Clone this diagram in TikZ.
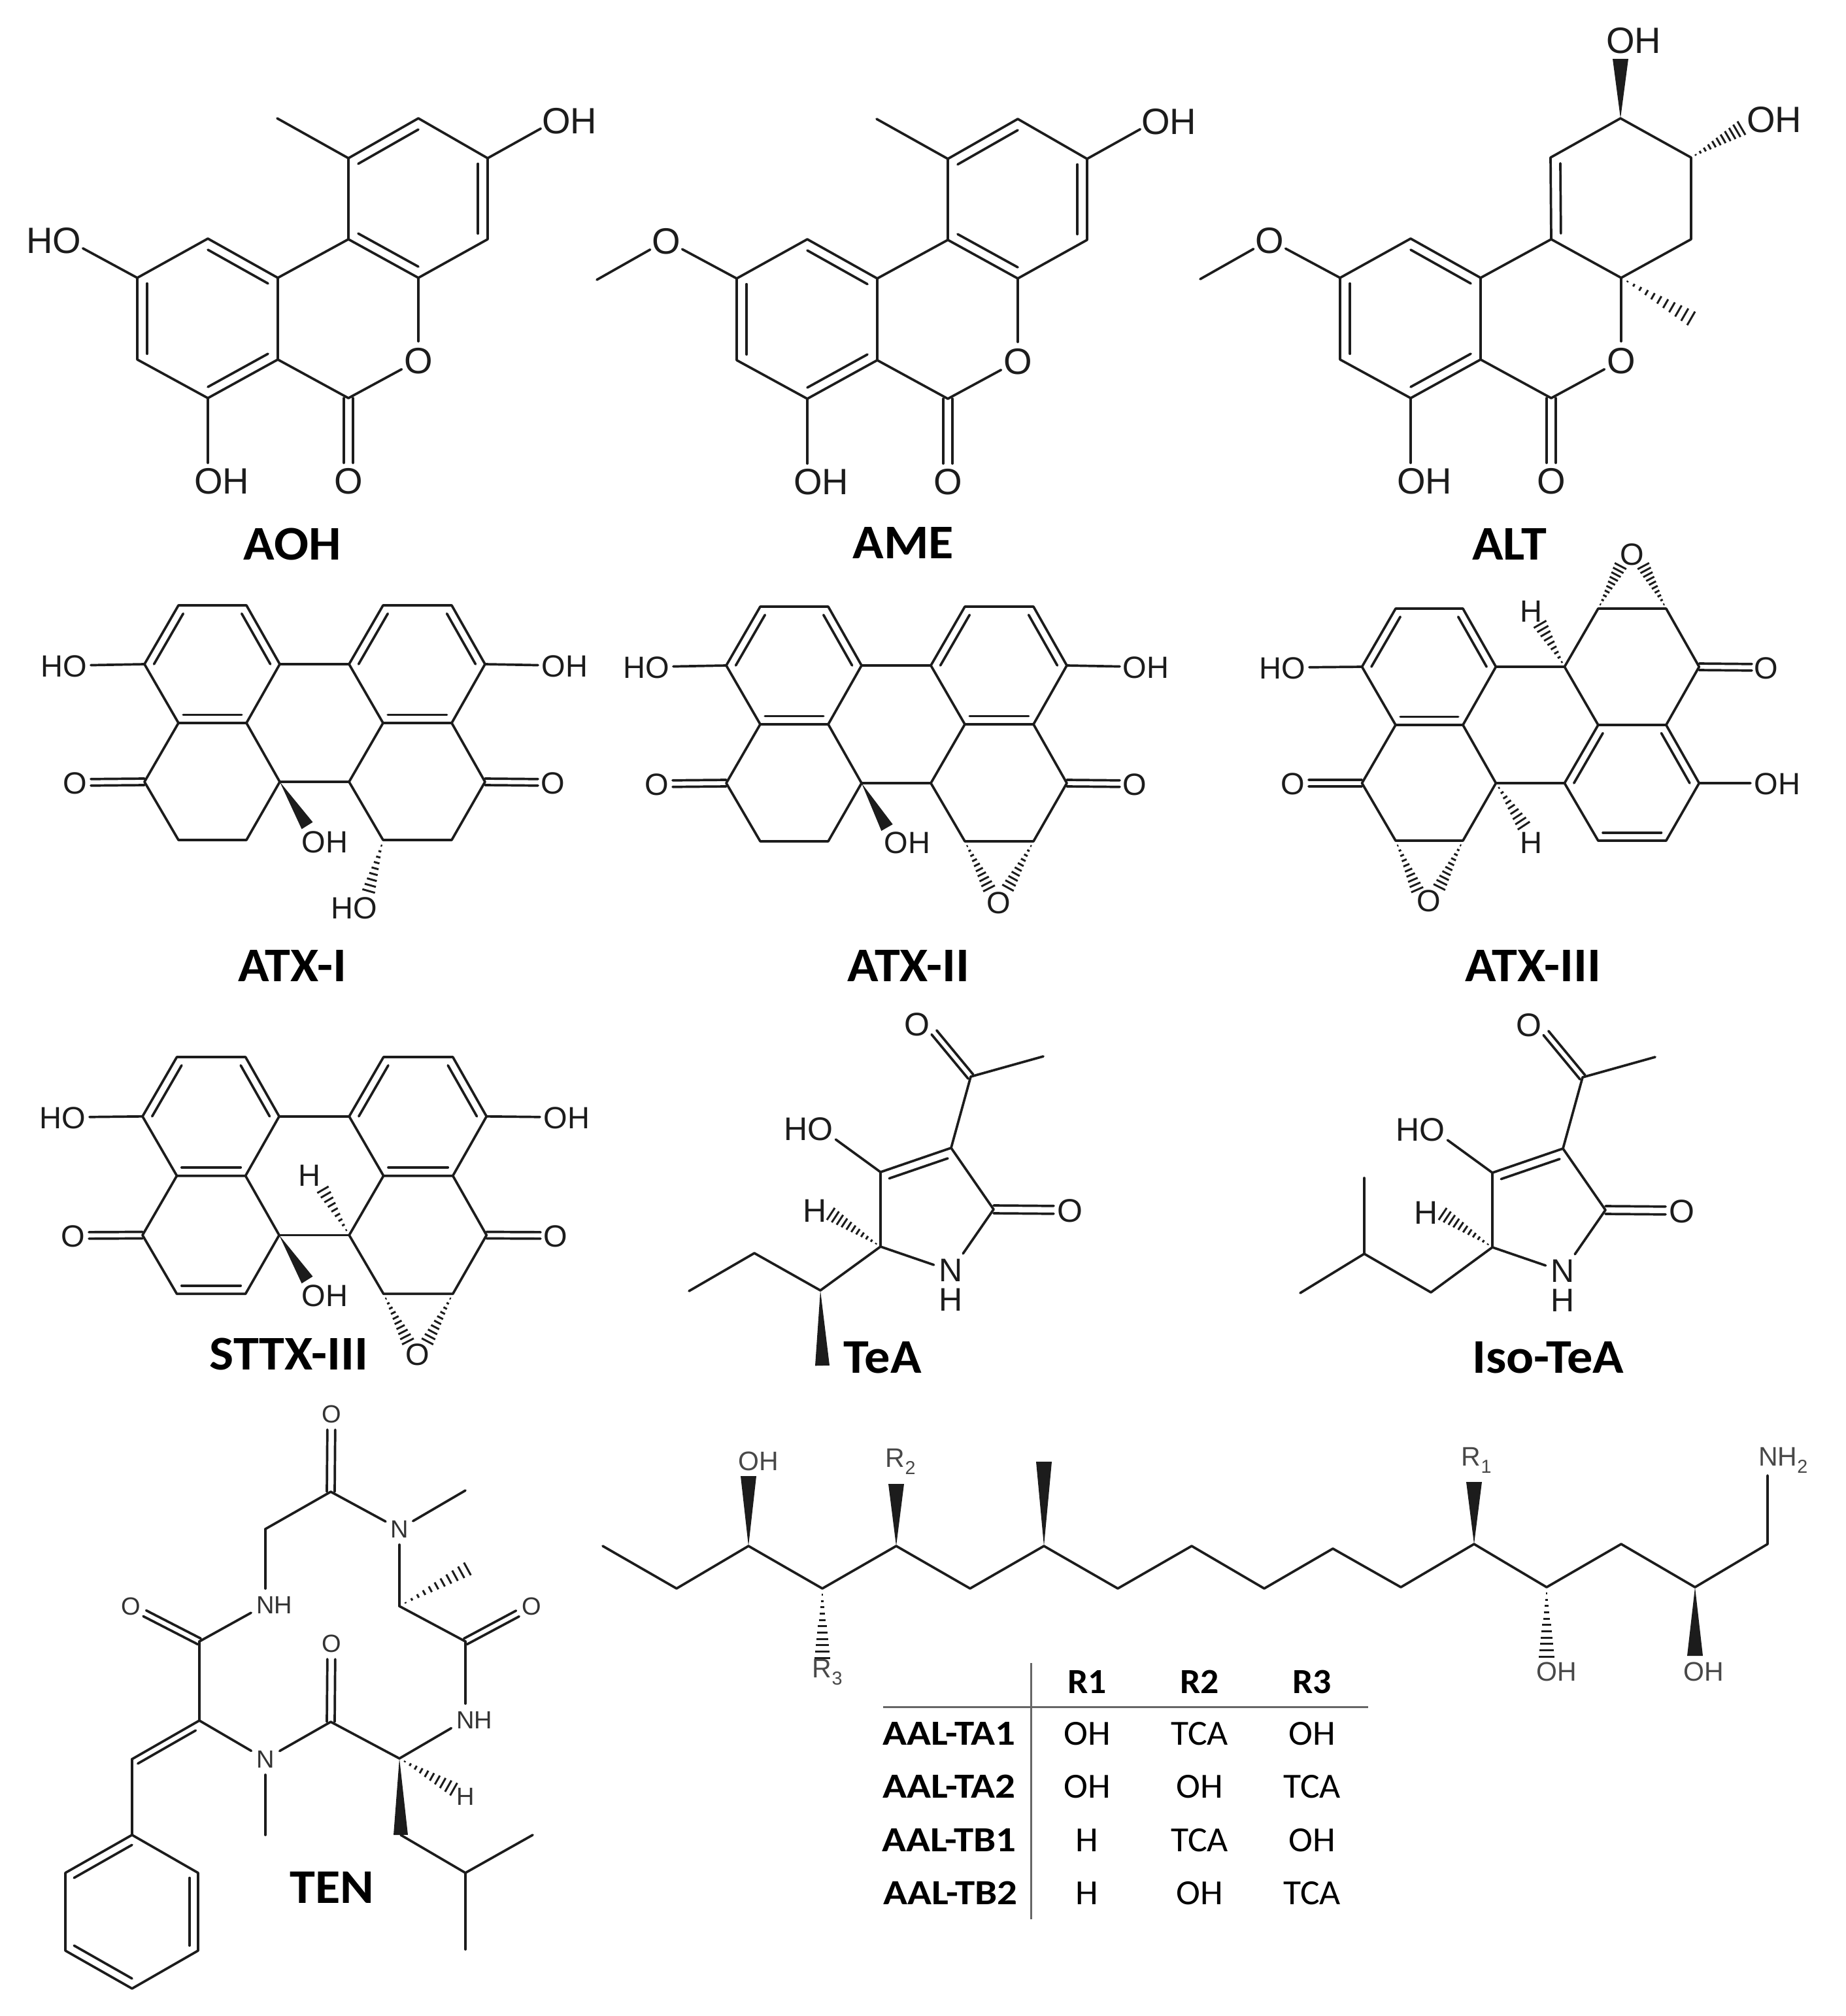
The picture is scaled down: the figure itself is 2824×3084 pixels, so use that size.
\documentclass[tikz,border=0pt]{standalone}
\usepackage{fontspec}
\setmainfont{Liberation Sans}
\newfontfamily\calib[FakeStretch=1.03]{Carlito}
\newfontfamily\calibT[FakeStretch=1.06]{Carlito}
\newfontfamily\calibR[FakeStretch=1.13]{Carlito}
\usetikzlibrary{calc}
\definecolor{inkc}{HTML}{1C1C1C}
\definecolor{inkt}{HTML}{333333}
\definecolor{inks}{HTML}{484848}
\tikzset{
  bond/.style={line width=3.7pt,line cap=round,line join=round,draw=inkc},
  hashl/.style={line width=3pt,draw=inkc},
  atomL/.style={font=\fontsize{56}{60}\selectfont,text=inkc,inner sep=0pt,text height=40pt,text depth=0pt},
  atomM/.style={font=\fontsize{47}{50}\selectfont,text=inkc,inner sep=0pt,text height=34pt,text depth=0pt},
  atomK/.style={font=\fontsize{50}{45}\selectfont,text=inkc,inner sep=0pt,text height=36pt,text depth=0pt},
  atomN/.style={font=\fontsize{50}{45}\selectfont,text=inkc,inner sep=0pt,align=center},
  atomT/.style={font=\fontsize{38}{40}\selectfont,text=inkt,inner sep=0pt,text height=27pt,text depth=0pt},
  atomS/.style={font=\fontsize{41}{44}\selectfont,text=inks,inner sep=0pt},
  title/.style={font=\calibT\bfseries\fontsize{74}{78}\selectfont,text=black,inner sep=0pt,text height=48pt,text depth=0pt},
  thead/.style={font=\calib\bfseries\fontsize{54}{58}\selectfont,text=black,inner sep=0pt,text height=35pt,text depth=0pt},
  trow/.style={font=\calibR\bfseries\fontsize{54}{58}\selectfont,text=black,inner sep=0pt,text height=35pt,text depth=0pt},
  tcell/.style={font=\calib\fontsize{54}{58}\selectfont,text=black,inner sep=0pt,text height=35pt,text depth=0pt},
  trule/.style={line width=3pt,draw=black!60},
}
% name of a plain bond, with its end held back from a label
\newcommand\bd[3][0pt]{\draw[bond,shorten >=#1] (#2) -- (#3);}
% inner line of a ring double bond
\newcommand\dl[4][.14]{\draw[bond] ($(#2)!#1!(#4)$) -- ($(#3)!#1!(#4)$);}
% symmetric double bond: [offset]{from}{to}{held back}
\newcommand\dco[4][5]{%
  \draw[bond,shorten >=#4] ($(#2)!#1pt!90:(#3)$) -- ($(#3)!#1pt!-90:(#2)$);
  \draw[bond,shorten >=#4] ($(#2)!#1pt!-90:(#3)$) -- ($(#3)!#1pt!90:(#2)$);}
\newcommand\wdg[3][10]{\fill[inkc] (#2) -- ($(#3)!#1pt!90:(#2)$) -- ($(#3)!#1pt!-90:(#2)$) -- cycle;}
\newcommand\hsh[4][9]{\foreach \hI in {1,...,#1}{%
  \pgfmathsetmacro\hT{\hI/#1}\pgfmathsetmacro\hW{#4*\hT}%
  \draw[hashl] ($(#2)!\hT!(#3)!\hW pt!90:(#2)$) -- ($(#2)!\hT!(#3)!\hW pt!-90:(#2)$);}}
% {style}{name}{x}{y}{text}{offset of the text from the atom}
\newcommand\lab[6]{\coordinate (#2) at (#3,#4); \node[#1] (#2t) at (#3+#6,#4) {#5};}
% two fused rings and the lactone shared by AOH, AME and ALT
\newcommand\core{%
  \coordinate (b1) at (318,365); \coordinate (b2) at (425,425);
  \coordinate (b3) at (425,550); \coordinate (b4) at (318,609);
  \coordinate (b5) at (210,550); \coordinate (b6) at (210,425);
  \coordinate (bc) at (318,487); \coordinate (c3) at (533,366);
  \coordinate (c4) at (640,425); \coordinate (cO) at (533,609);
  \draw[bond] (b1) -- (b2) -- (b3) -- (b4) -- (b5) -- (b6) -- cycle;
  \dl{b1}{b2}{bc} \dl{b3}{b4}{bc} \dl{b5}{b6}{bc}
  \bd{b2}{c3} \bd{b3}{cO}
  \lab{atomL}{oR}{640}{551}{O}{0}
  \lab{atomL}{oC}{533}{735}{O}{0}
  \lab{atomL}{oHb}{318}{735}{OH}{21}
  \bd[29pt]{c4}{oR} \bd[29pt]{cO}{oR}
  \dco[7]{cO}{oC}{27pt}
  \bd[27pt]{b4}{oHb}}
\newcommand\ringA{%
  \coordinate (a1) at (640,181); \coordinate (a2) at (533,242);
  \coordinate (a3) at (746,242); \coordinate (a4) at (746,366);
  \coordinate (ac) at (640,303); \coordinate (aMe) at (424,181);
  \draw[bond] (c3) -- (a2) -- (a1) -- (a3) -- (a4) -- (c4) -- cycle;
  \dl{a1}{a2}{ac} \dl{a3}{a4}{ac} \dl{c3}{c4}{ac}
  \bd{a2}{aMe}
  \lab{atomL}{oHa}{850}{184}{OH}{21}
  \bd[26pt]{a3}{oHa}}
\newcommand\ome{%
  \coordinate (meE) at (-4,427);
  \lab{atomL}{oMe}{102}{367}{O}{0}
  \bd[28pt]{b6}{oMe} \bd[28pt]{meE}{oMe}}
% the four-ring skeleton of the perylene quinones
\newcommand\pery{%
  \coordinate (p1) at (0,90);   \coordinate (p2) at (52,0);
  \coordinate (p3) at (156,0);  \coordinate (p4) at (207,90);
  \coordinate (p5) at (156,180);\coordinate (p6) at (52,180);
  \coordinate (q1) at (313,90); \coordinate (q2) at (365,0);
  \coordinate (q3) at (470,0);  \coordinate (q4) at (521,90);
  \coordinate (q5) at (470,180);\coordinate (q6) at (365,180);
  \coordinate (r1) at (0,270);  \coordinate (r2) at (52,359);
  \coordinate (r3) at (156,359);\coordinate (r4) at (207,270);
  \coordinate (s1) at (313,270);\coordinate (s2) at (365,359);
  \coordinate (s3) at (470,359);\coordinate (s4) at (521,270);
  \coordinate (cp) at (104,90); \coordinate (cq) at (417,90);
  \coordinate (cr) at (104,270);\coordinate (cs) at (417,270);
  \draw[bond] (p1)--(p2)--(p3)--(p4)--(p5)--(p6)--cycle;
  \draw[bond] (q1)--(q2)--(q3)--(q4)--(q5)--(q6)--cycle;
  \draw[bond] (p6)--(r1)--(r2)--(r3)--(r4)--(p5);
  \draw[bond] (q6)--(s1)--(s2)--(s3)--(s4)--(q5);
  \bd{p4}{q1} \bd{r4}{s1}}
\newcommand\peryD{\dl{p1}{p2}{cp} \dl{p3}{p4}{cp} \dl{p5}{p6}{cp}}
\newcommand\peryE{\dl{q1}{q2}{cq} \dl{q3}{q4}{cq} \dl{q5}{q6}{cq}}
% the tetramic acid ring of TeA and Iso-TeA
\newcommand\tea{%
  \coordinate (tC3) at (1455,1756); \coordinate (tC4) at (1347,1793);
  \coordinate (tC5) at (1347,1907); \coordinate (tC2) at (1520,1850);
  \coordinate (tAc) at (1485,1647); \coordinate (tMe) at (1596,1616);
  \coordinate (tRc) at (1425,1850); \coordinate (tOb) at (1413,1560);
  \coordinate (tNa) at (1455,1944);
  \node[atomN] (tN) at (1455,1966) {N\\H};
  \node[atomK] (tO1) at (1403,1566) {O};
  \lab{atomK}{tO2}{1637}{1851}{O}{0}
  \lab{atomK}{tHO}{1255}{1726}{HO}{-18}
  \draw[bond] (tC3) -- (tC4) -- (tC5);
  \bd{tC3}{tC2} \bd{tC3}{tAc} \bd{tAc}{tMe}
  \dl[.17]{tC3}{tC4}{tRc}
  \dco[5]{tAc}{tOb}{25pt}
  \dco[6]{tC2}{tO2}{25pt}
  \bd[29pt]{tC4}{tHO}
  \bd[28pt]{tC5}{tNa} \bd[32pt]{tC2}{tNa}}
\begin{document}
\begin{tikzpicture}[x=1pt,y=-1pt]
\useasboundingbox (0,0) rectangle (2824,3084);
\fill[white] (0,0) rectangle (2824,3084);
%% AOH
\core \ringA
\lab{atomL}{hoL}{103}{367}{HO}{-21}
\bd[27pt]{b6}{hoL}
\node[title] (tAOH) at (447,832) {AOH};
%% AME
\begin{scope}[shift={(917,1)}]
  \core \ringA \ome
  \node[title] (tAME) at (465,829) {AME};
\end{scope}
%% ALT
\begin{scope}[shift={(1840,0)}]
  \core \ome
\end{scope}
\coordinate (d1) at (2372,241); \coordinate (d2) at (2479,181);
\coordinate (d3) at (2587,241); \coordinate (d4) at (2587,366);
\coordinate (dc) at (2479,303); \coordinate (dw) at (2479,90);
\coordinate (dh) at (2664,196); \coordinate (dm) at (2587,487);
\draw[bond] (c3) -- (d1) -- (d2) -- (d3) -- (d4) -- (c4) -- cycle;
\dl{c3}{d1}{dc}
\lab{atomL}{dO1}{2479}{61}{OH}{20}
\lab{atomL}{dO2}{2695}{182}{OH}{19}
\wdg[12]{d2}{dw}
\hsh[11]{d3}{dh}{12}
\hsh[11]{c4}{dm}{12}
\node[title] (tALT) at (2309,832) {ALT};
%% ATX-I
\begin{scope}[shift={(221,926)}] \pery \end{scope}
\peryD \peryE
\lab{atomM}{i1}{115}{1018}{HO}{-17}
\lab{atomM}{i2}{847}{1018}{OH}{17}
\lab{atomM}{i3}{115}{1197}{O}{0}
\lab{atomM}{i4}{846}{1197}{O}{0}
\lab{atomM}{i5}{480}{1287}{OH}{17}
\lab{atomM}{i6}{560}{1388}{HO}{-18}
\coordinate (iw) at (470,1263); \coordinate (ih) at (564,1363);
\bd[24pt]{p1}{i1} \bd[24pt]{q4}{i2}
\dco[5]{r1}{i3}{24pt} \dco[5]{s4}{i4}{23pt}
\wdg[10]{r4}{iw}
\hsh[9]{s2}{ih}{10}
\node[title] (tATX1) at (447,1477) {ATX-I};
%% ATX-II
\begin{scope}[shift={(1111,928)}] \pery \end{scope}
\peryD \peryE
\lab{atomM}{j1}{1006}{1020}{HO}{-17}
\lab{atomM}{j2}{1736}{1020}{OH}{17}
\lab{atomM}{j3}{1005}{1199}{O}{0}
\lab{atomM}{j4}{1736}{1199}{O}{0}
\lab{atomM}{j5}{1371}{1288}{OH}{17}
\lab{atomM}{j6}{1528}{1380}{O}{0}
\coordinate (jw) at (1357,1266); \coordinate (jh1) at (1513,1359); \coordinate (jh2) at (1542,1358);
\bd[24pt]{p1}{j1} \bd[23pt]{q4}{j2}
\dco[5]{r1}{j3}{24pt} \dco[5]{s4}{j4}{23pt}
\wdg[10]{r4}{jw}
\hsh[10]{s2}{jh1}{10} \hsh[10]{s3}{jh2}{10}
\node[title] (tATX2) at (1390,1477) {ATX-II};
%% ATX-III
\begin{scope}[shift={(2083.5,931)},xscale=.99,yscale=.989] \pery \end{scope}
\peryD
\dl{q6}{s1}{cs} \dl{q5}{s4}{cs} \dl{s2}{s3}{cs}
\lab{atomM}{k1}{1979}{1021}{HO}{-17}
\lab{atomM}{k2}{2702}{1021}{O}{0}
\lab{atomM}{k3}{1978}{1198}{O}{0}
\lab{atomM}{k4}{2702}{1198}{OH}{17}
\lab{atomM}{k5}{2186}{1377}{O}{0}
\lab{atomM}{k6}{2496.5}{847}{O}{0}
\lab{atomM}{k7}{2342}{934}{H}{0}
\lab{atomM}{k8}{2342}{1288}{H}{0}
\bd[24pt]{p1}{k1} \bd[24pt]{s4}{k4}
\dco[5]{q4}{k2}{22pt} \dco[5]{r1}{k3}{24pt}
\coordinate (kh1) at (2168,1361); \coordinate (kh2) at (2202,1357);
\coordinate (kh3) at (2479,866); \coordinate (kh4) at (2514,866);
\coordinate (kh5) at (2356,955); \coordinate (kh6) at (2331,1263);
\hsh[10]{r2}{kh1}{10} \hsh[10]{r3}{kh2}{10}
\hsh[10]{q2}{kh3}{10} \hsh[10]{q3}{kh4}{10}
\hsh[9]{q1}{kh5}{11} \hsh[9]{r4}{kh6}{11}
\node[title] (tATX3) at (2345,1477) {ATX-III};
%% STTX-III
\begin{scope}[shift={(218,1617)},xscale=1.01,yscale=1.009] \pery \end{scope}
\peryD \peryE
\dl{r2}{r3}{cr}
\lab{atomM}{m1}{113}{1709}{HO}{-17}
\lab{atomM}{m2}{850}{1709}{OH}{17}
\lab{atomM}{m3}{112}{1890}{O}{0}
\lab{atomM}{m4}{850}{1890}{O}{0}
\lab{atomM}{m5}{473}{1797}{H}{0}
\lab{atomM}{m6}{480}{1981}{OH}{17}
\lab{atomM}{m7}{639}{2071}{O}{0}
\coordinate (mw) at (470,1958); \coordinate (mh) at (494,1820);
\coordinate (mh1) at (624,2052); \coordinate (mh2) at (654,2052);
\bd[24pt]{p1}{m1} \bd[24pt]{q4}{m2}
\dco[5]{r1}{m3}{24pt} \dco[5]{s4}{m4}{23pt}
\wdg[10]{r4}{mw}
\hsh[9]{s1}{mh}{10}
\hsh[10]{s2}{mh1}{10} \hsh[10]{s3}{mh2}{10}
\node[title] (tSTTX) at (442,2071) {STTX-III};
%% TeA
\tea
\lab{atomK}{tH}{1247}{1851}{H}{0}
\coordinate (eh) at (1271,1857); \coordinate (e1) at (1255,1974);
\coordinate (e2) at (1154,1917); \coordinate (e3) at (1054,1975);
\coordinate (ew) at (1258,2089);
\hsh[11]{tC5}{eh}{11}
\draw[bond] (tC5) -- (e1) -- (e2) -- (e3);
\wdg[11]{e1}{ew}
\node[title] (tTeA) at (1350,2076) {TeA};
%% Iso-TeA
\begin{scope}[shift={(936,1)}] \tea \end{scope}
\lab{atomK}{uH}{2182}{1854}{H}{0}
\coordinate (uh) at (2207,1857); \coordinate (u1) at (2189,1977);
\coordinate (u2) at (2087,1918); \coordinate (u3) at (1989,1978);
\coordinate (u4) at (2087,1802);
\hsh[11]{tC5}{uh}{11}
\draw[bond] (tC5) -- (u1) -- (u2) -- (u3);
\bd{u2}{u4}
\node[title] (tIso) at (2368,2076) {Iso-TeA};
%% TEN
\coordinate (v1) at (506,2282); \coordinate (v2) at (406,2339);
\coordinate (v3) at (305,2511); \coordinate (v4) at (305,2632);
\coordinate (v5) at (202,2691); \coordinate (v6) at (202,2807);
\coordinate (v7) at (506,2634); \coordinate (v8) at (611,2690);
\coordinate (v9) at (712,2511); \coordinate (v10) at (611,2457);
\coordinate (v11) at (712,2280); \coordinate (v12) at (406,2807);
\coordinate (v13) at (613,2807); \coordinate (v14) at (712,2865);
\coordinate (v15) at (815,2807); \coordinate (v16) at (712,2982);
\coordinate (v17) at (715,2400); \coordinate (v18) at (694,2737);
\coordinate (vd) at (265,2740);
\coordinate (f1) at (303,2865); \coordinate (f2) at (303,2984);
\coordinate (f3) at (202,3042); \coordinate (f4) at (100,2984);
\coordinate (f5) at (100,2865); \coordinate (fc) at (202,2924);
\lab{atomT}{w1}{507}{2163}{O}{0}
\lab{atomT}{w2}{611}{2339}{N}{0}
\lab{atomT}{w3}{406}{2455}{NH}{13.5}
\lab{atomT}{w4}{200}{2457}{O}{0}
\lab{atomT}{w5}{406}{2691}{N}{0}
\lab{atomT}{w6}{507}{2514}{O}{0}
\lab{atomT}{w7}{712}{2631}{NH}{13.5}
\lab{atomT}{w8}{813}{2457}{O}{0}
\lab{atomT}{w9}{712}{2748}{H}{0}
\dco[6]{v1}{w1}{24pt} \bd[24pt]{v1}{w2} \bd[24pt]{v11}{w2} \bd[24pt]{v10}{w2}
\bd{v1}{v2} \bd[25pt]{v2}{w3} \bd[25pt]{v3}{w3}
\dco[5]{v3}{w4}{24pt} \bd{v3}{v4} \bd{v4}{v5} \dl{v4}{v5}{vd}
\bd[25pt]{v4}{w5} \bd[25pt]{v7}{w5} \bd[24pt]{v12}{w5}
\dco[6]{v7}{w6}{24pt} \bd{v7}{v8}
\bd[25pt]{v8}{w7} \bd[25pt]{v9}{w7}
\dco[5]{v9}{w8}{24pt} \bd{v9}{v10}
\hsh[11]{v10}{v17}{11} \hsh[10]{v8}{v18}{11}
\wdg[11]{v8}{v13}
\draw[bond] (v13) -- (v14) -- (v15); \bd{v14}{v16}
\bd{v5}{v6}
\draw[bond] (v6) -- (f1) -- (f2) -- (f3) -- (f4) -- (f5) -- cycle;
\dl[.13]{v6}{f5}{fc} \dl[.13]{f1}{f2}{fc} \dl[.13]{f3}{f4}{fc}
\node[title] (tTEN) at (508,2887) {TEN};
%% AAL chain
\coordinate (h1) at (922,2365);  \coordinate (h2) at (1035,2430);
\coordinate (h3) at (1145,2365); \coordinate (h4) at (1258,2430);
\coordinate (h5) at (1371,2365); \coordinate (h6) at (1484,2430);
\coordinate (h7) at (1597,2365); \coordinate (h8) at (1710,2430);
\coordinate (h9) at (1823,2365); \coordinate (h10) at (1934,2430);
\coordinate (h11) at (2039,2369);\coordinate (h12) at (2143,2428);
\coordinate (h13) at (2255,2362);\coordinate (h14) at (2366,2428);
\coordinate (h15) at (2480,2362);\coordinate (h16) at (2593,2428);
\coordinate (h17) at (2704,2362);\coordinate (h18) at (2704,2257);
\draw[bond] (h1)--(h2)--(h3)--(h4)--(h5)--(h6)--(h7)--(h8)--(h9)--(h10)--(h11)--(h12)--(h13)--(h14)--(h15)--(h16)--(h17)--(h18);
\coordinate (g1) at (1145,2258); \coordinate (g2) at (1371,2270);
\coordinate (g3) at (1597,2236); \coordinate (g4) at (2255,2267);
\coordinate (g5) at (2593,2533); \coordinate (g6) at (1258,2536);
\coordinate (g7) at (2366,2534);
\wdg[12]{h3}{g1} \wdg[12]{h5}{g2} \wdg[12]{h7}{g3} \wdg[12]{h13}{g4} \wdg[12]{h16}{g5}
\hsh[11]{h4}{g6}{12} \hsh[11]{h14}{g7}{12}
\node[atomS] (n1) at (1160,2235) {OH};
\node[atomS] (n2) at (1378,2236) {R\textsubscript{2}};
\node[atomS] (n3) at (2259,2234) {R\textsubscript{1}};
\node[atomS] (n4) at (2728,2234) {NH\textsubscript{2}};
\node[atomS] (n5) at (1266,2558) {R\textsubscript{3}};
\node[atomS] (n6) at (2381,2557) {OH};
\node[atomS] (n7) at (2606,2557) {OH};
%% table
\coordinate (tv1) at (1577,2544); \coordinate (tv2) at (1577,2936);
\coordinate (th1) at (1351,2611); \coordinate (th2) at (2093,2611);
\draw[trule] (tv1) -- (tv2);
\draw[trule] (th1) -- (th2);
\node[thead] (hR1) at (1663,2573) {R1};
\node[thead] (hR2) at (1835,2573) {R2};
\node[thead] (hR3) at (2007,2573) {R3};
\node[trow] (rA) at (1452,2652) {AAL-TA1};
\node[trow] (rB) at (1452,2733) {AAL-TA2};
\node[trow] (rC) at (1452,2815) {AAL-TB1};
\node[trow] (rD) at (1454,2896) {AAL-TB2};
\node[tcell] (c11) at (1663,2652) {OH};
\node[tcell] (c12) at (1835,2652) {TCA};
\node[tcell] (c13) at (2007,2652) {OH};
\node[tcell] (c21) at (1663,2733) {OH};
\node[tcell] (c22) at (1835,2733) {OH};
\node[tcell] (c23) at (2007,2733) {TCA};
\node[tcell] (c31) at (1663,2815) {H};
\node[tcell] (c32) at (1835,2815) {TCA};
\node[tcell] (c33) at (2007,2815) {OH};
\node[tcell] (c41) at (1663,2896) {H};
\node[tcell] (c42) at (1835,2896) {OH};
\node[tcell] (c43) at (2007,2896) {TCA};
\end{tikzpicture}
\end{document}
